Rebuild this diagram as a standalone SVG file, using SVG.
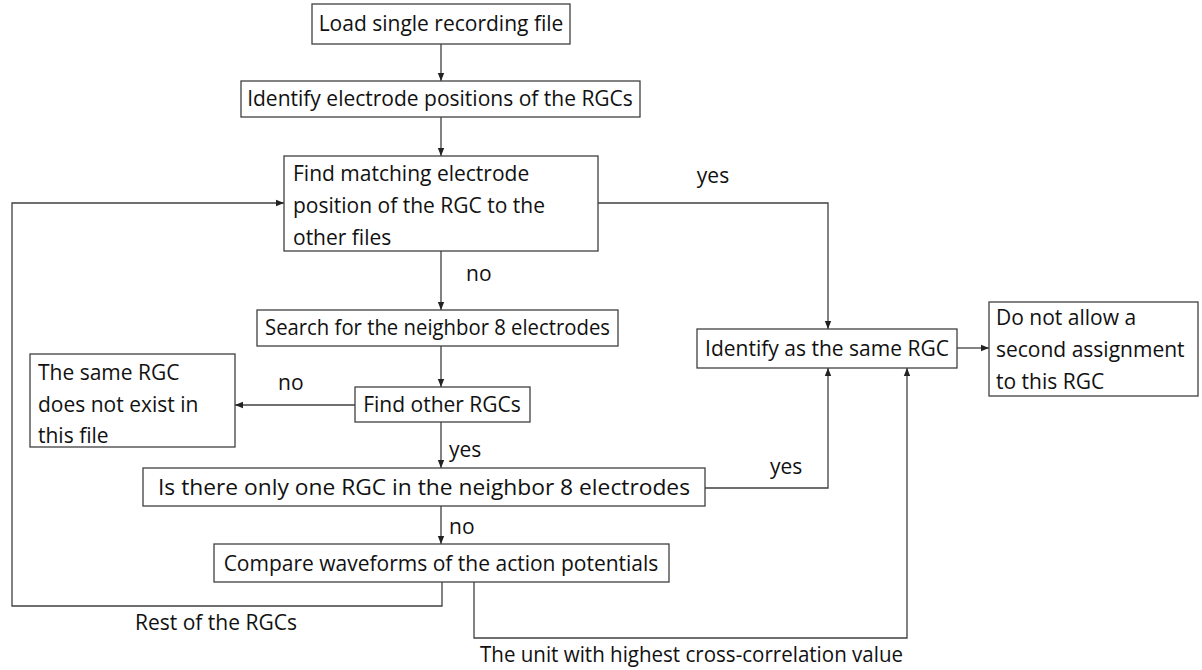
<svg xmlns="http://www.w3.org/2000/svg" width="1202" height="670" viewBox="0 0 1202 670">
<style>
.box{fill:#fff;stroke:#404040;stroke-width:1.3}
.t{font-family:"Open Sans","Liberation Sans",sans-serif;font-size:21px;fill:#111}
.c{text-anchor:middle}
.ln{fill:none;stroke:#404040;stroke-width:1.3}
</style>
<defs>
<marker id="ah" viewBox="0 0 10 10" refX="10" refY="5" markerWidth="8" markerHeight="8" markerUnits="userSpaceOnUse" orient="auto">
<path d="M0,1 L10,5 L0,9 Z" fill="#222"/>
</marker>
</defs>
<rect width="1202" height="670" fill="#fff"/>
<g id="connectors">
<path class="ln" d="M441,44 V81" marker-end="url(#ah)"/>
<path class="ln" d="M441,117 V156" marker-end="url(#ah)"/>
<path class="ln" d="M598,203 H828 V329" marker-end="url(#ah)"/>
<path class="ln" d="M442,582 V606 H12 V203 H284" marker-end="url(#ah)"/>
<path class="ln" d="M441,251 V310" marker-end="url(#ah)"/>
<path class="ln" d="M441,346 V387" marker-end="url(#ah)"/>
<path class="ln" d="M355,405 H235" marker-end="url(#ah)"/>
<path class="ln" d="M441,422 V468" marker-end="url(#ah)"/>
<path class="ln" d="M705,488 H828 V368" marker-end="url(#ah)"/>
<path class="ln" d="M441,506 V544" marker-end="url(#ah)"/>
<path class="ln" d="M474,582 V638 H907 V368" marker-end="url(#ah)"/>
<path class="ln" d="M957,348 H989" marker-end="url(#ah)"/>
<text class="t c" x="713" y="183">yes</text>
<text class="t" x="466" y="281">no</text>
<text class="t" x="278" y="390">no</text>
<text class="t" x="449" y="457">yes</text>
<text class="t" x="770" y="474">yes</text>
<text class="t" x="449" y="534">no</text>
<text class="t" x="135" y="630">Rest of the RGCs</text>
<text class="t" x="480" y="662" textLength="423" lengthAdjust="spacingAndGlyphs">The unit with highest cross-correlation value</text>
</g>
<g id="n1"><rect class="box" x="312" y="4" width="258" height="40"/><text class="t c" x="441" y="31">Load single recording file</text></g>
<g id="n2"><rect class="box" x="241" y="81" width="399" height="36"/><text class="t c" x="440" y="106">Identify electrode positions of the RGCs</text></g>
<g id="n3"><rect class="box" x="284" y="156" width="314" height="95"/>
<text class="t" x="293" y="181">Find matching electrode</text>
<text class="t" x="293" y="213">position of the RGC to the</text>
<text class="t" x="293" y="245">other files</text></g>
<g id="n4"><rect class="box" x="257" y="310" width="361" height="36"/><text class="t" x="265" y="335" textLength="345" lengthAdjust="spacingAndGlyphs">Search for the neighbor 8 electrodes</text></g>
<g id="n5"><rect class="box" x="355" y="387" width="175" height="35"/><text class="t c" x="442" y="412">Find other RGCs</text></g>
<g id="n6"><rect class="box" x="30" y="354" width="205" height="93"/>
<text class="t" x="38" y="380">The same RGC</text>
<text class="t" x="38" y="412">does not exist in</text>
<text class="t" x="38" y="443">this file</text></g>
<g id="n7"><rect class="box" x="143" y="468" width="562" height="38"/><text class="t" x="158" y="495" textLength="532" lengthAdjust="spacingAndGlyphs">Is there only one RGC in the neighbor 8 electrodes</text></g>
<g id="n8"><rect class="box" x="214" y="544" width="455" height="38"/><text class="t c" x="441" y="571">Compare waveforms of the action potentials</text></g>
<g id="n9"><rect class="box" x="697" y="329" width="260" height="39"/><text class="t c" x="827" y="356">Identify as the same RGC</text></g>
<g id="n10"><rect class="box" x="989" y="302" width="209" height="94"/>
<text class="t" x="996" y="325">Do not allow a</text>
<text class="t" x="996" y="357">second assignment</text>
<text class="t" x="996" y="389">to this RGC</text></g>
</svg>
